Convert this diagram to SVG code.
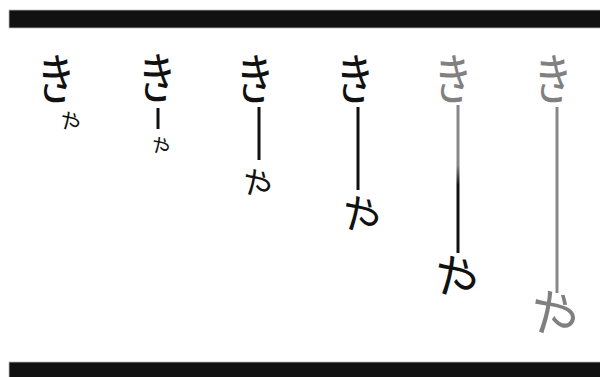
<svg xmlns="http://www.w3.org/2000/svg" width="600" height="377" viewBox="0 0 600 377">
<defs>
<style>
.k{font-family:"Noto Sans CJK JP","Noto Sans CJK SC",sans-serif;text-anchor:middle;dominant-baseline:central;}
.blk{fill:#111;}
.gry{fill:#808080;}
.ln{stroke-width:3;fill:none;}
</style>
<linearGradient id="g5" gradientUnits="userSpaceOnUse" x1="0" y1="165" x2="0" y2="185">
<stop offset="0" stop-color="#888"/>
<stop offset="1" stop-color="#111"/>
</linearGradient>
</defs>
<rect width="600" height="377" fill="#fff"/>
<rect x="9" y="10" width="592" height="18" fill="#111" stroke="#bbb" stroke-width="0.8"/>
<rect x="9" y="362" width="592" height="16" fill="#111" stroke="#bbb" stroke-width="0.8"/>
<g id="connectors">
<line class="ln" x1="158" y1="108" x2="158" y2="129" stroke="#111"/>
<line class="ln" x1="259" y1="107" x2="259" y2="160" stroke="#111"/>
<line class="ln" x1="358" y1="107" x2="358" y2="190" stroke="#111"/>
<line class="ln" x1="458" y1="105" x2="458" y2="253" stroke="url(#g5)"/>
<line class="ln" x1="557" y1="107" x2="557" y2="293" stroke="#888"/>
</g>
<g id="col1">
<text class="k blk" font-size="55" transform="translate(56,75) scale(0.7,1)">き</text>
<text class="k blk" font-size="22" transform="translate(71,120) rotate(35)">や</text>
</g>
<g id="col2">
<text class="k blk" font-size="55" transform="translate(157,74) scale(0.7,1)">き</text>
<text class="k blk" font-size="20" transform="translate(161,145) rotate(35)">や</text>
</g>
<g id="col3">
<text class="k blk" font-size="55" transform="translate(255,75) scale(0.7,1)">き</text>
<text class="k blk" font-size="32" transform="translate(258,182) rotate(35)">や</text>
</g>
<g id="col4">
<text class="k blk" font-size="55" transform="translate(355,75) scale(0.7,1)">き</text>
<text class="k blk" font-size="42" transform="translate(362,213) rotate(35)">や</text>
</g>
<g id="col5">
<text class="k gry" font-size="55" transform="translate(453,75) scale(0.7,1)">き</text>
<text class="k blk" font-size="48" transform="translate(457,275) rotate(35)">や</text>
</g>
<g id="col6">
<text class="k gry" font-size="55" transform="translate(553,75) scale(0.7,1)">き</text>
<text class="k gry" font-size="52" transform="translate(555,312) rotate(35)">や</text>
</g>
</svg>
